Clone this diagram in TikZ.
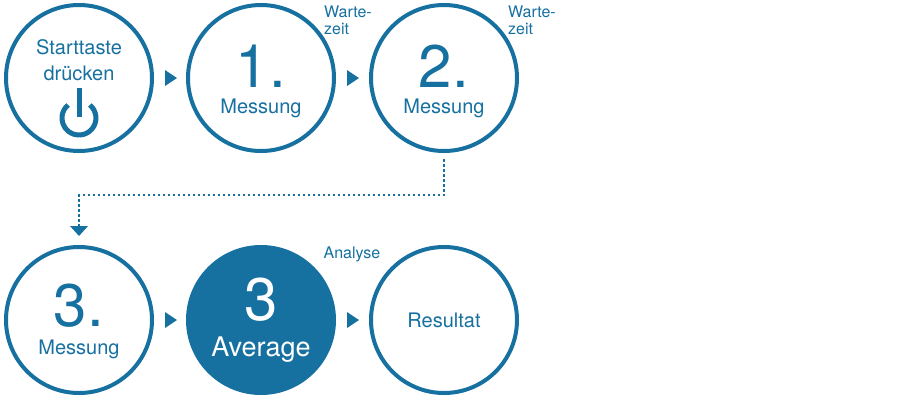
\documentclass[tikz,border=0pt]{standalone}
\usepackage{fontspec}
\setmainfont{TeX Gyre Heros}
\definecolor{tb}{HTML}{1670A0}
\begin{document}
\begin{tikzpicture}[x=1pt,y=-1pt,
  ring/.style={circle,draw=tb,line width=4pt,minimum size=146pt,inner sep=0pt},
  lab/.style={text=tb,font=\fontsize{20}{26}\selectfont,align=center},
  big/.style={text=tb,font=\fontsize{60}{60}\selectfont},
  small/.style={text=tb,font=\fontsize{16}{17}\selectfont,align=left}]
\useasboundingbox (0,0) rectangle (920,400);
\node[ring] (c1) at (79,78) {};
\node[ring] (c2) at (261,78) {};
\node[ring] (c3) at (444,78) {};
\node[ring] (c4) at (79,320) {};
\node[ring,fill=tb] (c5) at (261,320) {};
\node[ring] (c6) at (444,320) {};
% texts
\node[lab] at (79,60) {Starttaste\\drücken};
\draw[tb,line width=5pt] (79,88) -- (79,117);
\draw[tb,line width=5pt] (89.9,105) arc[start angle=-50,end angle=230,radius=17];
\node[big] at (261,66) {1.};
\node[lab] at (261,108) {Messung};
\node[big] at (444,66) {2.};
\node[lab] at (444,108) {Messung};
\node[big] at (79,306) {3.};
\node[lab] at (79,349) {Messung};
\node[big,text=white] at (261,300) {3};
\node[lab,text=white,font=\fontsize{27}{30}\selectfont] at (261,350) {Average};
\node[lab] at (444,320) {Resultat};
\node[small] at (348,20) {Warte-\\zeit};
\node[small] at (532,20) {Warte-\\zeit};
\node[small] (an) at (352,254) {Analyse};
% triangles
\foreach \x/\y in {171/78,353/78,171/320,353/320}
  \fill[tb] (\x-6,\y-8) -- (\x+6,\y) -- (\x-6,\y+8) -- cycle;
% dotted connector
\coordinate (d1) at (444,195);
\coordinate (d2) at (79,195);
\coordinate (d3) at (79,226);
\draw[tb,line width=2.5pt,dash pattern=on 2.5pt off 2.5pt] (c3.south) ++(0,6) -- (d1) -- (d2) -- (d3);
\fill[tb] (70,226) -- (88,226) -- (79,236) -- cycle;
\end{tikzpicture}
\end{document}
